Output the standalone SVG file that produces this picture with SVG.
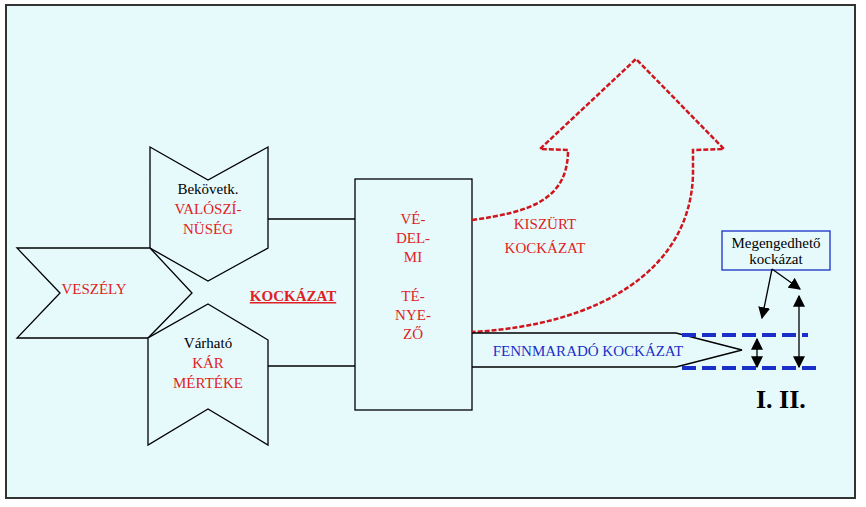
<svg xmlns="http://www.w3.org/2000/svg" width="866" height="507" viewBox="0 0 866 507">
<defs>
<style>
.s{fill:#e6fafc;stroke:#000;stroke-width:1.3}
.t{font-family:"Liberation Serif","Times New Roman",serif;font-size:15px;text-anchor:middle}
.r{fill:#e01e24}
.k{fill:#000}
.ln{stroke:#000;stroke-width:1.3;fill:none}
.rd{stroke:#d0161c;stroke-width:2.5;fill:none;stroke-dasharray:5,2}
.bd{stroke:#1a2fc8;stroke-width:4;fill:none;stroke-dasharray:14,6}
</style>
<marker id="ah" viewBox="0 0 10 10" refX="9" refY="5" markerWidth="9" markerHeight="9" markerUnits="userSpaceOnUse" orient="auto-start-reverse"><path d="M0,0L10,5L0,10z" fill="#000"/></marker>
<marker id="ah2" viewBox="0 0 10 10" refX="9" refY="5" markerWidth="12" markerHeight="12" markerUnits="userSpaceOnUse" orient="auto-start-reverse"><path d="M0,0L10,5L0,10z" fill="#000"/></marker>
</defs>
<rect x="0" y="0" width="866" height="507" fill="#fff"/>
<rect x="6" y="5" width="849" height="493" fill="#e6fafc" stroke="#333" stroke-width="2"/>
<g id="bekovetk"><polygon class="s" points="150,147 208,180 268,147 268,248 208,281 150,248"/>
<text class="t k" x="208" y="194">Bekövetk.</text><text class="t r" x="208" y="214">VALÓSZÍ-</text><text class="t r" x="208" y="234">NÜSÉG</text></g>
<g id="veszely"><polygon class="s" points="17,248 150,248 192,293 148,338 17,338 60,293"/>
<text class="t r" x="94" y="294">VESZÉLY</text></g>
<g id="varhato"><polygon class="s" points="208,304 268,340 268,445 208,409 148,445 148,338"/>
<text class="t k" x="208" y="348">Várható</text><text class="t r" x="208" y="368">KÁR</text><text class="t r" x="208" y="388">MÉRTÉKE</text></g>
<g id="kockazat"><text class="t r" x="293" y="301" font-weight="bold" font-size="16" text-decoration="underline">KOCKÁZAT</text></g>
<g id="vedelmi"><rect class="s" x="355" y="179" width="117" height="231"/>
<text class="t r" x="413" y="224">VÉ-</text><text class="t r" x="413" y="243">DEL-</text><text class="t r" x="413" y="262">MI</text>
<text class="t r" x="413" y="301">TÉ-</text><text class="t r" x="413" y="320">NYE-</text><text class="t r" x="413" y="339">ZŐ</text></g>
<g id="kiszurt"><path class="rd" d="M472,220 C530,212 568,200 568,150 L540,149 L636,59 L724,149 L693,150 L693,175 C690,270 600,325 472,332"/>
<text class="t r" x="545" y="229">KISZÜRT</text><text class="t r" x="545" y="253">KOCKÁZAT</text></g>
<g id="fennmarado"><path class="ln" d="M472,333 L676,333 L742,350 L676,367 L472,367"/>
<text class="t" x="588" y="356" fill="#1a2fc8">FENNMARADÓ KOCKÁZAT</text></g>
<g id="megengedheto"><rect x="722" y="231" width="108" height="39" fill="#e6fafc" stroke="#1a2fc8" stroke-width="1.3"/>
<text class="t k" x="776" y="248" font-size="14">Megengedhető</text><text class="t k" x="776" y="264" font-size="14">kockázat</text></g>
<g id="levels"><text x="756" y="408" font-family="Liberation Serif,serif" font-weight="bold" font-size="26">I.  II.</text></g>
<g id="connectors">
<line class="ln" x1="268" y1="219" x2="355" y2="219"/>
<line class="ln" x1="268" y1="366" x2="355" y2="366"/>
<line class="bd" x1="682" y1="335" x2="808" y2="335"/>
<line class="bd" x1="682" y1="368" x2="822" y2="368"/>
<line class="ln" x1="772" y1="269" x2="762" y2="318" marker-end="url(#ah2)"/>
<line class="ln" x1="772" y1="269" x2="800" y2="289" marker-end="url(#ah2)"/>
<line class="ln" x1="799" y1="296" x2="799" y2="367" marker-start="url(#ah2)" marker-end="url(#ah2)"/>
<line class="ln" x1="757" y1="339" x2="757" y2="367" marker-start="url(#ah2)" marker-end="url(#ah2)"/>
</g>
</svg>
